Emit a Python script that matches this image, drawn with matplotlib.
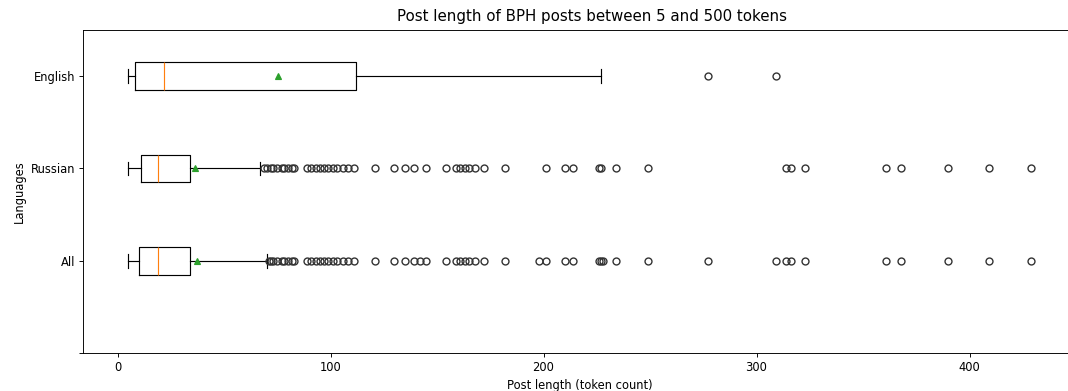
import matplotlib
matplotlib.use("Agg")
import matplotlib.pyplot as plt

# ---- data ----
languages = ["All", "Russian", "English"]
whislo = [5, 5, 5]
q1 = [10, 11, 8]
medians = [19, 19, 22]
q3 = [34, 34, 112]
whishi = [70, 67, 227]
means = [37.2, 36.6, 75.3]

fliers_all = [71, 72, 73, 75, 77, 78, 80, 82, 83, 89, 91, 93, 95, 97, 99, 101,
              103, 106, 108, 111, 121, 130, 135, 139, 142, 145, 154, 159, 161,
              163, 165, 168, 172, 182, 198, 201, 210, 214, 226, 227, 228, 234,
              249, 277, 309, 314, 316, 323, 361, 368, 390, 409, 429]
fliers_russian = [69, 70, 72, 73, 75, 77, 78, 80, 82, 83, 89, 91, 93, 95, 97,
                  99, 101, 103, 106, 108, 111, 121, 130, 135, 139, 145, 154,
                  159, 161, 163, 165, 168, 172, 182, 201, 210, 214, 226, 227,
                  234, 249, 314, 316, 323, 361, 368, 390, 409, 429]
fliers_english = [277, 309]
fliers = [fliers_all, fliers_russian, fliers_english]

ytick_labels = ["", "All", "Russian", "English"]
title = "Post length of BPH posts between 5 and 500 tokens"
xlabel = "Post length (token count)"
ylabel = "Languages"

# ---- figure ----
DPI = 83
fig = plt.figure(figsize=(1068 / DPI, 391 / DPI), dpi=DPI)
W, H = 1068, 391
left_px, top_px, bottom_px = 83, 30, 353
right_px = 83 + 466.4 * 2.13
ax = fig.add_axes([left_px / W, (H - bottom_px) / H,
                   (right_px - left_px) / W, (bottom_px - top_px) / H])

stats = []
for i, lab in enumerate(languages):
    stats.append(dict(label=lab, whislo=whislo[i], q1=q1[i], med=medians[i],
                      q3=q3[i], whishi=whishi[i], mean=means[i],
                      fliers=fliers[i]))

ax.bxp(stats, positions=[1, 2, 3], vert=False, showmeans=True,
       flierprops=dict(markeredgecolor="#333333", markeredgewidth=1.2))
ax.set_yticks([0, 1, 2, 3])
ax.set_yticklabels(ytick_labels)
ax.set_ylim(0, 3.5)
ax.set_xlim(-16.2, 450.2)
fig.text(592 / W, (H - 17) / H, title, fontsize=13, ha="center", va="center")
ax.set_xlabel(xlabel)
ax.set_ylabel(ylabel)

fig.savefig("out.png", dpi=DPI)
